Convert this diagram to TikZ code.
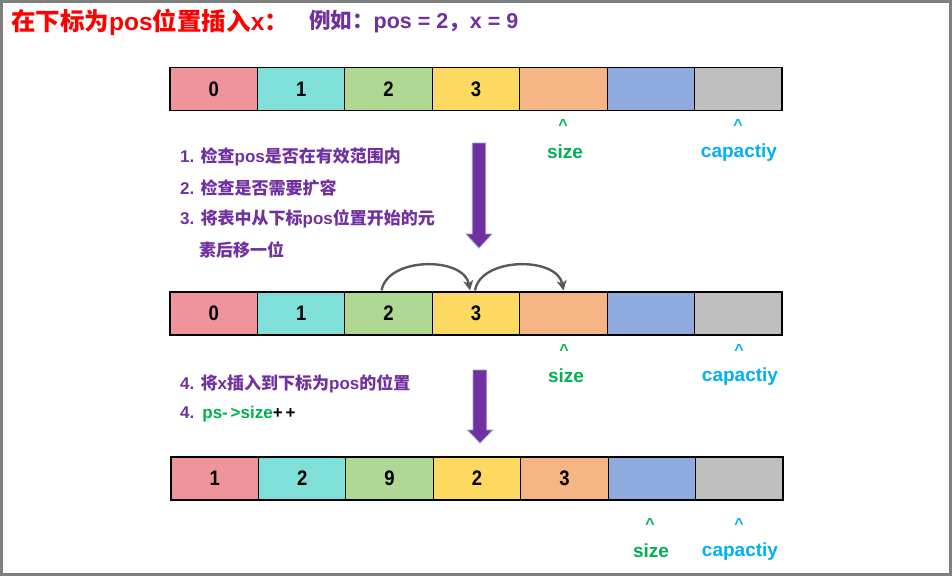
\documentclass[tikz,border=0pt]{standalone}
\usepackage{fontspec}
\setmainfont{Liberation Sans}
\newfontfamily\cjk{Noto Sans CJK SC}
\newfontfamily\numfont{Liberation Sans}[FakeStretch=0.88]
\usetikzlibrary{arrows.meta,calc}
\definecolor{cpink}{HTML}{F0949C}
\definecolor{ccyan}{HTML}{7FE0DA}
\definecolor{cgreen}{HTML}{AED893}
\definecolor{cyellow}{HTML}{FDD962}
\definecolor{corange}{HTML}{F6B584}
\definecolor{cblue}{HTML}{8FAADF}
\definecolor{cgray}{HTML}{BFBFBF}
\definecolor{cpurple}{HTML}{7030A0}
\definecolor{csize}{HTML}{00B050}
\definecolor{ccap}{HTML}{00B0F0}
\definecolor{cred}{HTML}{FF0000}
\definecolor{carc}{HTML}{595959}
\definecolor{cframe}{HTML}{808080}
\definecolor{cedge}{HTML}{8FA8D8}
\newcommand{\zh}[1]{{\cjk #1}}
\tikzset{
  cell/.style={draw=black, line width=1.1pt, minimum width=87.43pt, minimum height=43pt,
    inner sep=0pt, font=\numfont\bfseries\fontsize{20}{20}\selectfont},
  cellnum/.style={font=\numfont\bfseries\fontsize{21}{21}\selectfont},
  steptext/.style={anchor=west, inner sep=0pt, text=cpurple, font=\bfseries\fontsize{17}{17}\selectfont},
  sizelbl/.style={inner sep=0pt, text=csize, font=\bfseries\fontsize{19}{19}\selectfont},
  caplbl/.style={inner sep=0pt, text=ccap, font=\bfseries\fontsize{19}{19}\selectfont},
  caretlbl/.style={inner sep=0pt, font=\bfseries\fontsize{16}{16}\selectfont},
  movearc/.style={draw=carc, line width=2.4pt, -{Stealth[length=10pt,width=10pt,inset=3pt]}},
  bigarrow/.style={fill=cpurple, draw=cedge, line width=0.8pt},
}
\begin{document}
\begin{tikzpicture}[x=1pt,y=-1pt]
\useasboundingbox (0,0) rectangle (952,576);
\draw[cframe, line width=2.5pt] (1.5,1.5) rectangle (950.5,574.5);

% title
\node[anchor=west, inner sep=0pt, text=cred, font=\bfseries\fontsize{24.5}{24.5}\selectfont] (title) at (11,22)
  {\zh{在下标为}pos\zh{位置插入}x\zh{：}};
\node[anchor=west, inner sep=0pt, text=cpurple, font=\bfseries\fontsize{21.5}{21.5}\selectfont] (example) at (309,22)
  {\zh{例如：}pos = 2\zh{，}x = 9};

% arrays
\foreach \r/\yy/\xs in {1/89/170, 2/313.5/170, 3/478.5/171} {
  \foreach \c/\col in {0/cpink,1/ccyan,2/cgreen,3/cyellow,4/corange,5/cblue,6/cgray} {
    \node[cell, fill=\col] (r\r c\c) at ({\xs+87.43*(\c+0.5)},\yy) {};
  }
}
\foreach \c/\v in {0/0,1/1,2/2,3/3} {
  \node[cellnum] at (r1c\c) {\v};
  \node[cellnum] at (r2c\c) {\v};
}
\foreach \c/\v in {0/1,1/2,2/9,3/2,4/3} {
  \node[cellnum] at (r3c\c) {\v};
}

% size / capacity labels row 1
\node[caretlbl, text=csize] (c1s) at (563,125) {\textasciicircum};
\node[sizelbl] (s1) at (565,152) {size};
\node[caretlbl, text=ccap] (c1c) at (738,125) {\textasciicircum};
\node[caplbl] (p1) at (739,153) {capactiy};
% row 2
\node[caretlbl, text=csize] (c2s) at (564,350) {\textasciicircum};
\node[sizelbl] (s2) at (566,376) {size};
\node[caretlbl, text=ccap] (c2c) at (739,350) {\textasciicircum};
\node[caplbl] (p2) at (740,377) {capactiy};
% row 3
\node[caretlbl, text=csize] (c3s) at (650,524) {\textasciicircum};
\node[sizelbl] (s3) at (651,551) {size};
\node[caretlbl, text=ccap] (c3c) at (739,524) {\textasciicircum};
\node[caplbl] (p3) at (740,552) {capactiy};

% steps
\node[steptext] (t1) at (180,157) {1. \zh{检查}pos\zh{是否在有效范围内}};
\node[steptext] (t2) at (180,188) {2. \zh{检查是否需要扩容}};
\node[steptext] (t3) at (180,219) {3. \zh{将表中从下标}pos\zh{位置开始的元}};
\node[steptext] (t4) at (199,250) {\zh{素后移一位}};
\node[steptext] (t5) at (180,384) {4. \zh{将}x\zh{插入到下标为}pos\zh{的位置}};
\node[steptext] (t6) at (180,414) {4.\hspace{8pt}\textcolor{csize}{ps-\,>size}\textcolor{black}{+\,+}};

% big down arrows
\filldraw[bigarrow] (472.3,143) -- (485.7,143) -- (485.7,234) -- (492,234) -- (479,248)
  -- (466,234) -- (472.3,234) -- cycle;
\filldraw[bigarrow] (473,370) -- (486.7,370) -- (486.7,430) -- (492.7,430) -- (480,443)
  -- (467.5,430) -- (473,430) -- cycle;

% move arcs
\coordinate (a1s) at ($(r2c2.north)+(-7,-1)$);
\coordinate (a1e) at ($(r2c3.north)+(-6,-1)$);
\coordinate (a2s) at ($(r2c3.north)+(-1,-1)$);
\coordinate (a2e) at ($(r2c4.north)+(0,-1)$);
\draw[movearc] (a1s) to[out=80,in=100] (a1e);
\draw[movearc] (a2s) to[out=80,in=100] (a2e);
\end{tikzpicture}
\end{document}
